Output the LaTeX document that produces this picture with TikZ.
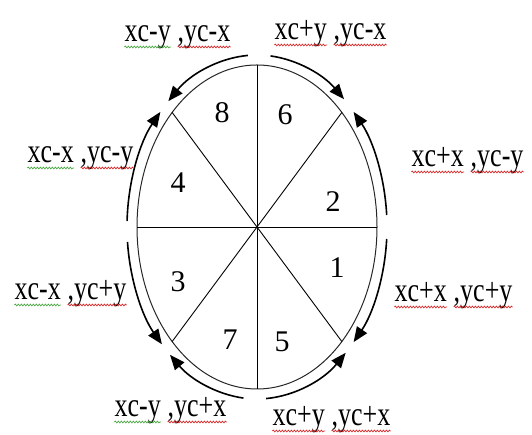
\documentclass[tikz,border=0pt]{standalone}
\usepackage{fontspec}
\setmainfont{Liberation Serif}
\usetikzlibrary{arrows.meta, decorations.pathmorphing}

\definecolor{wavered}{RGB}{215,40,40}
\definecolor{wavegreen}{RGB}{70,165,60}

\tikzset{
  octlabel/.style={font=\fontsize{26}{30}\selectfont, inner sep=0pt},
  octnum/.style={font=\fontsize{30}{34}\selectfont, inner sep=0pt},
  octarrow/.style={-{Triangle[length=15pt,width=12pt]}, line width=1.6pt},
  wavy/.style={line width=0.7pt, decorate,
    decoration={snake, amplitude=0.9pt, segment length=3pt}},
}

\begin{document}
\begin{tikzpicture}[x=1pt, y=1pt]
    \useasboundingbox (0,0) rectangle (532,435);

    % Centre; ellipse 120 x 162, arrow track 130 x 172
    \coordinate (C) at (257,208);

    % --- Ellipse ---
    \draw[line width=1pt, black!85] (C) ellipse [x radius=120pt, y radius=162pt];

    % --- Spokes (8 octants) ---
    \foreach \a [count=\i] in {0,45,...,315}
        \path (C) ++(\a:120pt and 162pt) coordinate (P\i);
    \foreach \i in {1,...,8}
        \draw[line width=0.9pt] (C) -- (P\i);

    % --- Octant numbers ---
    \node[octnum] (n8) at (222,322) {8};
    \node[octnum] (n6) at (285,320) {6};
    \node[octnum] (n4) at (178,252) {4};
    \node[octnum] (n2) at (333,233) {2};
    \node[octnum] (n1) at (337,167) {1};
    \node[octnum] (n3) at (178,153) {3};
    \node[octnum] (n7) at (230,95)  {7};
    \node[octnum] (n5) at (282,93)  {5};

    % --- Outer arrows: from each axis towards the diagonals ---
    \foreach \s/\e in {94/133, 84/48, 4/42, -4/-42, 178/138, 185/223, 264/228, 274/313}
        \draw[octarrow] (C) ++(\s:130pt and 172pt)
            arc[start angle=\s, end angle=\e, x radius=130pt, y radius=172pt];

    % --- Point labels (x part, then y part), with spell-check waves ---
    \foreach \n/\x/\y/\c/\f/\g in {
        ltl/171/393/wavegreen/xc-y/yc-x,
        ltr/327/395/wavered/xc+y/yc-x,
        lul/74/272/wavegreen/xc-x/yc-y,
        lur/464/268/wavered/xc+x/yc-y,
        lll/61/135/wavegreen/xc-x/yc+y,
        llr/447/133/wavered/xc+x/yc+y,
        lbl/161/18/wavegreen/xc-y/yc+x,
        lbr/325/9/wavered/xc+y/yc+x}
    {
        \node[octlabel, anchor=base east] (\n a) at (\x,\y) {\scalebox{1}[1.3]{\f}};
        \node[octlabel, anchor=base west] (\n b) at ([xshift=6.5pt]\n a.base east) {\scalebox{1}[1.3]{,\g}};
        \draw[wavy, \c] ([yshift=-5pt]\n a.base west) -- ([yshift=-5pt]\n a.base east);
        \draw[wavy, wavered] ([yshift=-5pt]\n b.base west) -- ([yshift=-5pt]\n b.base east);
    }
\end{tikzpicture}
\end{document}
